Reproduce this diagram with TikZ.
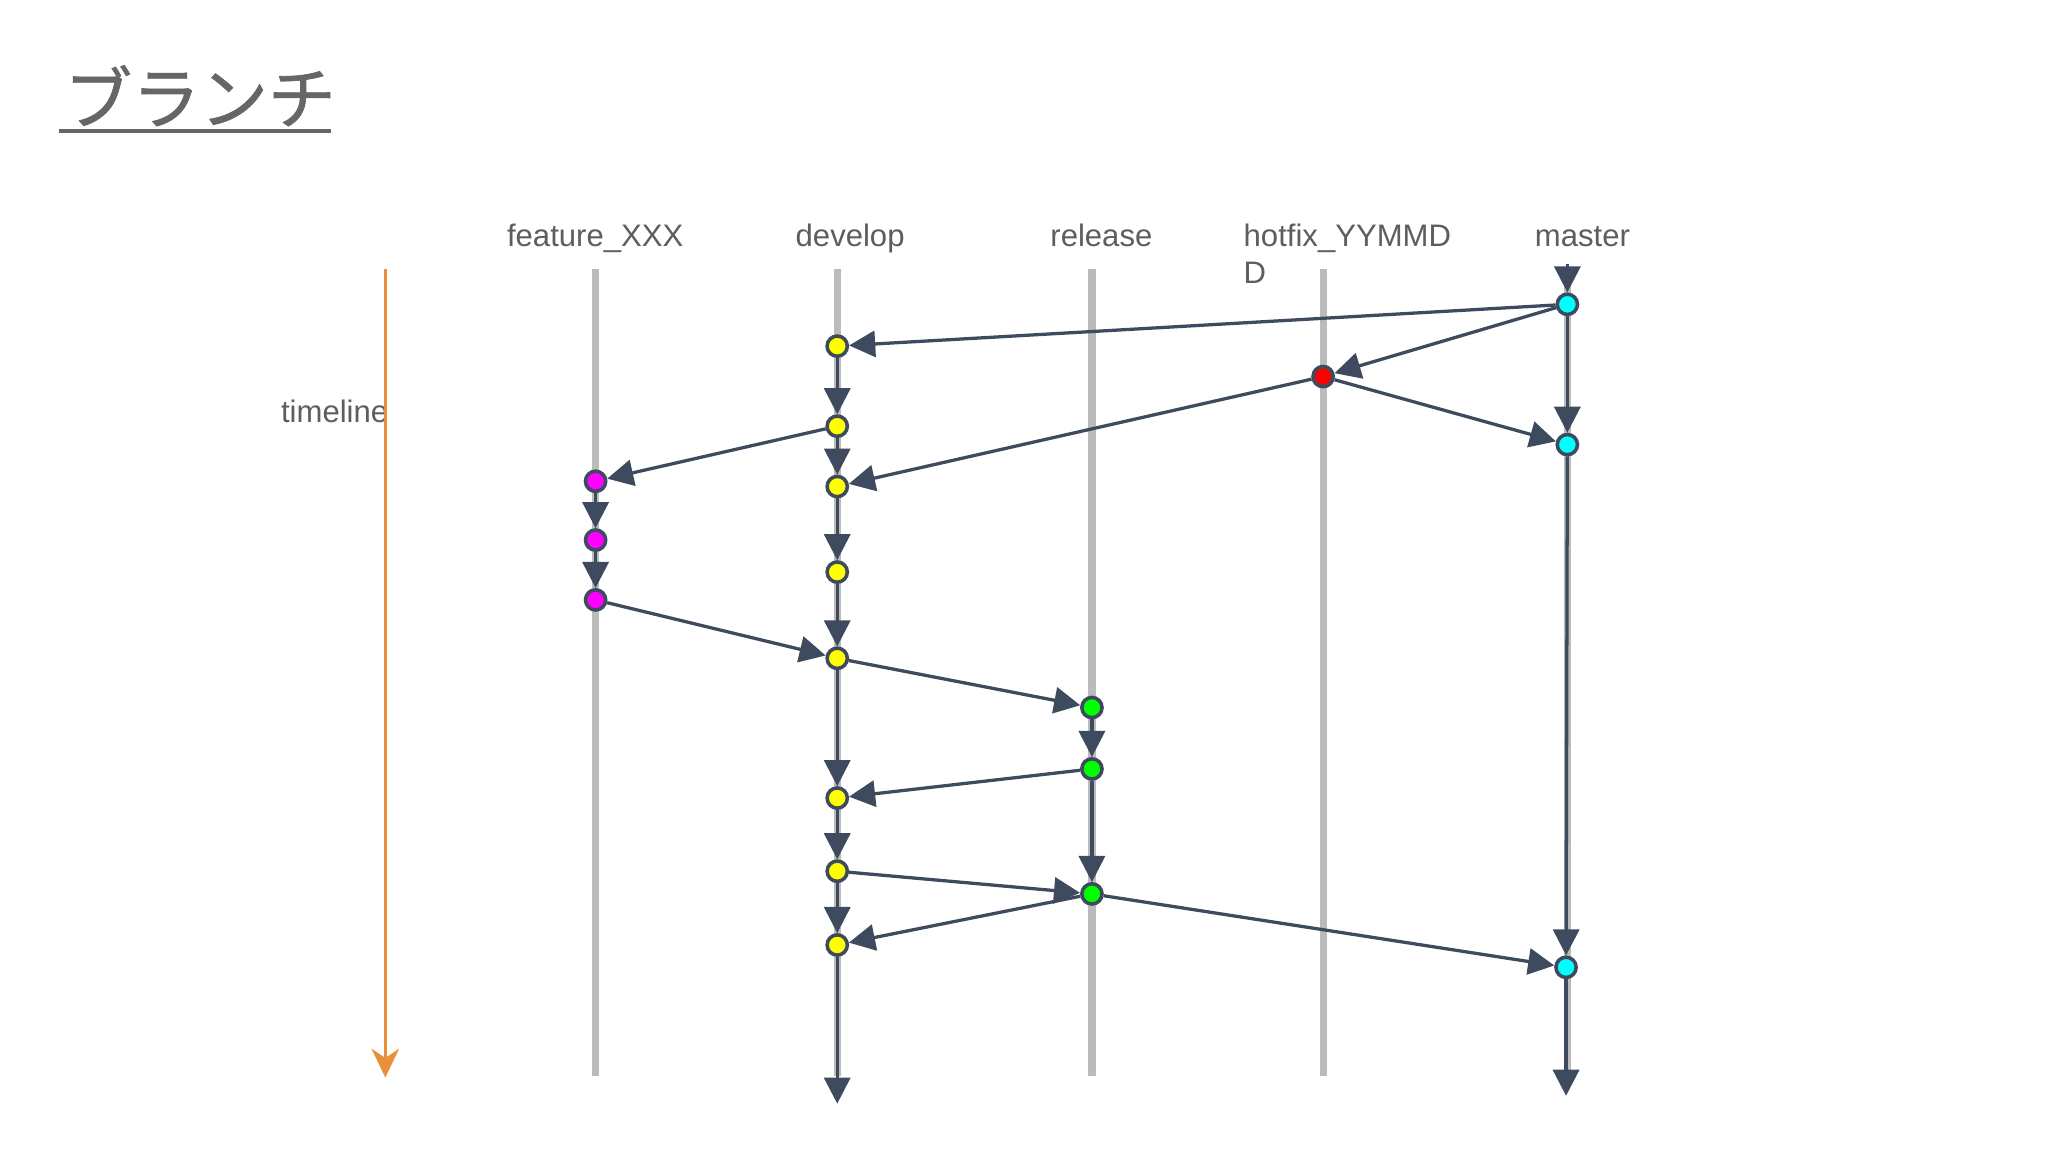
\documentclass[tikz,border=0pt]{standalone}
\usepackage{fontspec}
\setmainfont{Liberation Sans}
\newfontfamily\cjkfont[FakeBold=1]{Noto Sans CJK JP}
\usetikzlibrary{arrows.meta}
\definecolor{edgec}{HTML}{3E4A5E}
\definecolor{lanec}{HTML}{BBBBBB}
\definecolor{textc}{HTML}{5E5E5E}
\definecolor{titlec}{HTML}{666666}
\definecolor{orangec}{HTML}{E8913A}
\definecolor{cyanc}{HTML}{00FFFF}
\definecolor{yelc}{HTML}{FFFF00}
\definecolor{magc}{HTML}{FF00FF}
\definecolor{grnc}{HTML}{00FF00}
\definecolor{redc}{HTML}{FF0000}
\begin{document}
\begin{tikzpicture}[x=1pt,y=-1pt,
  commit/.style={circle,draw=edgec,line width=2.7pt,minimum size=15.5pt,inner sep=0pt},
  lane/.style={lanec,line width=5.5pt},
  edge/.style={edgec,line width=2.5pt,-{Triangle[length=20pt,width=20pt]}},
  lbl/.style={textc,font=\fontsize{23.8}{28}\selectfont,inner sep=0pt,anchor=base west}]
\useasboundingbox[fill=white] (0,0) rectangle (1568,882);

% title
\node[titlec,font=\cjkfont\fontsize{52}{60}\selectfont,inner sep=0pt,anchor=base west] (title) at (49,94.5) {ブランチ};
\draw[titlec,line width=3.4pt] (45,100.2) -- (253.6,100.2);

% lane labels
\node[lbl] (lf) at (388,188.5) {feature\_XXX};
\node[lbl] (ld) at (609,188.5) {develop};
\node[lbl] (lr) at (804,188.5) {release};
\node[lbl,anchor=north west,align=left] (lh) at (952,171.5) {hotfix\_YYMMD\\D};
\node[lbl] (lm) at (1175,188.5) {master};
\node[lbl] (lt) at (215,323.5) {timeline};

% timeline
\coordinate (ttop) at (295,206);
\coordinate (tbot) at (295,825);
\draw[orangec,line width=2.5pt,-{Stealth[length=22pt,width=21pt,inset=7pt]}] (ttop) -- (tbot);

% lanes
\draw[lane] (456,206) -- (456,824);
\draw[lane] (641,206) -- (641,824);
\draw[lane] (836,206) -- (836,824);
\draw[lane] (1013,206) -- (1013,824);
\draw[lane] (1200,206) -- (1200,824);

% commits
\node[commit,fill=cyanc] (m1) at (1200,233) {};
\node[commit,fill=cyanc] (m2) at (1200,340.4) {};
\node[commit,fill=cyanc] (m3) at (1199,740.6) {};
\node[commit,fill=redc] (h1) at (1013,288.3) {};
\node[commit,fill=yelc] (d1) at (641,265) {};
\node[commit,fill=yelc] (d2) at (641,326.3) {};
\node[commit,fill=yelc] (d3) at (641,372.5) {};
\node[commit,fill=yelc] (d4) at (641,438) {};
\node[commit,fill=yelc] (d5) at (641,504) {};
\node[commit,fill=yelc] (d6) at (641,611) {};
\node[commit,fill=yelc] (d7) at (641,667) {};
\node[commit,fill=yelc] (d8) at (641,723.5) {};
\node[commit,fill=magc] (f1) at (456,368.5) {};
\node[commit,fill=magc] (f2) at (456,413.5) {};
\node[commit,fill=magc] (f3) at (456,459.3) {};
\node[commit,fill=grnc] (r1) at (836,541.7) {};
\node[commit,fill=grnc] (r2) at (836,588.7) {};
\node[commit,fill=grnc] (r3) at (836,684.4) {};

\coordinate (mtop) at (1200,202);
\coordinate (mbot) at (1199,839);
\coordinate (dbot) at (641,845);

% edges
\draw[edge] (mtop) -- (m1);
\draw[edge] (m1) -- (m2);
\draw[edge] (m2) -- (m3);
\draw[edge] (m3) -- (mbot);
\draw[edge] (m1) -- (d1);
\draw[edge] (m1) -- (h1);
\draw[edge] (h1) -- (m2);
\draw[edge] (h1) -- (d3);
\draw[edge] (d1) -- (d2);
\draw[edge] (d2) -- (d3);
\draw[edge] (d3) -- (d4);
\draw[edge] (d4) -- (d5);
\draw[edge] (d5) -- (d6);
\draw[edge] (d6) -- (d7);
\draw[edge] (d7) -- (d8);
\draw[edge] (d8) -- (dbot);
\draw[edge] (d2) -- (f1);
\draw[edge] (f1) -- (f2);
\draw[edge] (f2) -- (f3);
\draw[edge] (f3) -- (d5);
\draw[edge] (d5) -- (r1);
\draw[edge] (r1) -- (r2);
\draw[edge] (r2) -- (r3);
\draw[edge] (r2) -- (d6);
\draw[edge] (d7) -- (r3);
\draw[edge] (r3) -- (d8);
\draw[edge] (r3) -- (m3);
\end{tikzpicture}
\end{document}
